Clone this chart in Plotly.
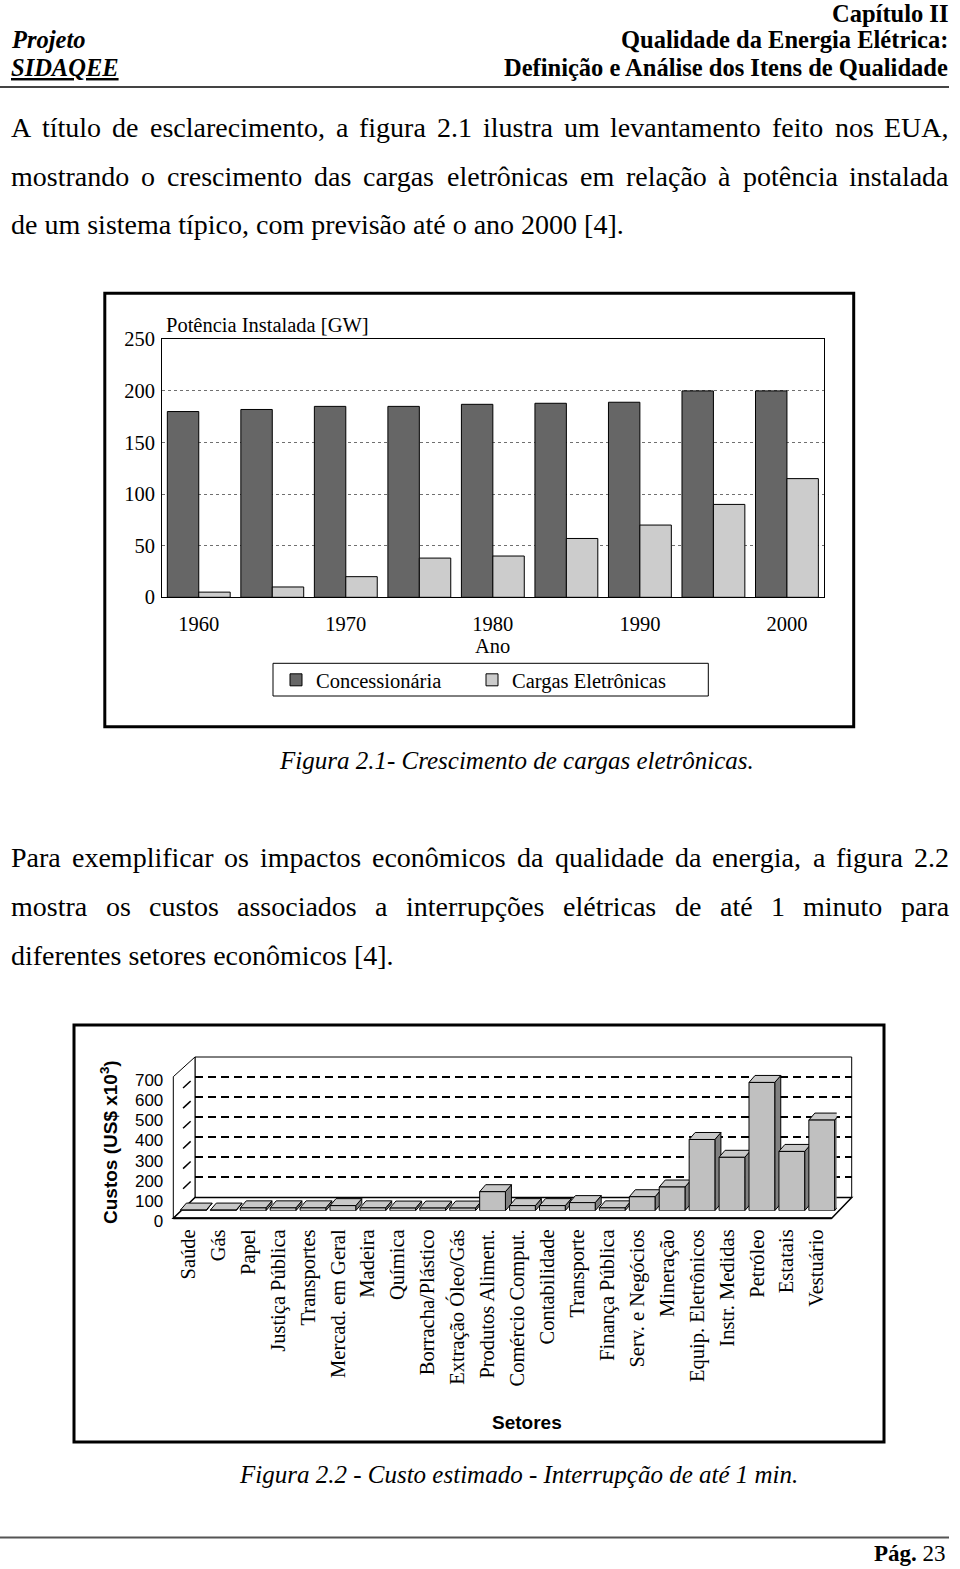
import plotly.graph_objects as go

# page is 960x1569; the page body margin is removed after plotting (post_script)
PAGE_W, PAGE_H = 960, 1569
OFF = 0
W, H = PAGE_W - 2 * OFF, PAGE_H - 2 * OFF


def px(x):
    return (x - OFF) / W


def py(y):
    return 1 - (y - OFF) / H


# ---------------- data : Figura 2.1 ----------------
anos = [1960, 1965, 1970, 1975, 1980, 1985, 1990, 1995, 2000]
concessionaria = [180, 182, 185, 185, 187, 188, 189, 200, 200]
cargas_eletronicas = [5, 10, 20, 38, 40, 57, 70, 90, 115]
anos_ticks = [1960, 1970, 1980, 1990, 2000]
gw_ticks = [0, 50, 100, 150, 200, 250]

# ---------------- data : Figura 2.2 ----------------
setores = ["Saúde", "Gás", "Papel", "Justiça Pública", "Transportes",
           "Mercad. em Geral", "Madeira", "Química", "Borracha/Plástico",
           "Extração Óleo/Gás", "Produtos Aliment.", "Comércio Comput.",
           "Contabilidade", "Transporte", "Finança Pública", "Serv. e Negócios",
           "Mineração", "Equip. Eletrônicos", "Instr. Medidas", "Petróleo",
           "Estatais", "Vestuário"]
custos = [3, 3, 14, 14, 14, 25, 14, 13, 13, 13, 94, 25, 25, 40, 14, 69,
          117, 352, 264, 634, 293, 448]
custo_ticks = [0, 100, 200, 300, 400, 500, 600, 700]

# ---------------- text ----------------
para1 = ["A título de esclarecimento, a figura 2.1 ilustra um levantamento feito nos EUA,",
         "mostrando o crescimento das cargas eletrônicas em relação à potência instalada",
         "de um sistema típico, com previsão até o ano 2000 [4]."]
para2 = ["Para exemplificar os impactos econômicos da qualidade da energia, a figura 2.2",
         "mostra os custos associados a interrupções elétricas de até 1 minuto para",
         "diferentes setores econômicos [4]."]

SERIF = "Liberation Serif, Times New Roman, serif"
SANS = "Liberation Sans, Arial, sans-serif"
BODY = dict(family=SERIF, size=28, color="black")

# Times / Liberation Serif advance widths (1/1000 em) for justification
TW = {' ': 250, 'a': 444, 'b': 500, 'c': 444, 'd': 500, 'e': 444, 'f': 333,
      'g': 500, 'h': 500, 'i': 278, 'j': 278, 'k': 500, 'l': 278, 'm': 778,
      'n': 500, 'o': 500, 'p': 500, 'q': 500, 'r': 333, 's': 389, 't': 278,
      'u': 500, 'v': 500, 'w': 722, 'x': 500, 'y': 500, 'z': 444,
      'í': 278, 'ç': 444, 'ã': 444, 'à': 444, 'ê': 444, 'ô': 500, 'õ': 500,
      'é': 444, 'A': 722, 'E': 611, 'U': 722, 'P': 556, ',': 250, '.': 250}


def text_w(s, size):
    return sum(TW.get(c, 500) for c in s) / 1000.0 * size


annotations = []


def ann(text, x, y, font, xanchor="left", yanchor="middle", **kw):
    d = dict(text=text, x=px(x), y=py(y), xref="paper", yref="paper",
             xanchor=xanchor, yanchor=yanchor, showarrow=False, font=font)
    d.update(kw)
    annotations.append(d)


def justified(line, y, x0=10, x1=948, size=28):
    words = line.split(" ")
    ws = [text_w(w, size) for w in words]
    gap = (x1 - x0 - sum(ws)) / (len(words) - 1)
    x = x0
    for w, wd in zip(words, ws):
        ann(w, x - 1, y, BODY)
        x += wd + gap


# header
HF = dict(family=SERIF, size=24.5, color="black")
ann("<b>Capítulo II</b>", 949, 13.5, HF, xanchor="right", borderpad=0)
ann("<b>Qualidade da Energia Elétrica:</b>", 949, 39, HF, xanchor="right", borderpad=0)
ann("<b>Definição e Análise dos Itens de Qualidade</b>", 949, 67.5, HF, xanchor="right", borderpad=0)
ann("<b><i>Projeto</i></b>", 10, 39, HF, borderpad=0)
ann("<b><i>SIDAQEE</i></b>", 10, 67.5, dict(HF, lineposition="under"), borderpad=0)

# body paragraphs
py1 = [128, 176, 224]
justified(para1[0], py1[0])
justified(para1[1], py1[1])
ann(para1[2], 9, py1[2], BODY)
py2 = [857, 906, 955]
justified(para2[0], py2[0])
justified(para2[1], py2[1])
ann(para2[2], 9, py2[2], BODY)

CAP = dict(family=SERIF, size=25, color="black")
ann("<i>Figura 2.1- Crescimento de cargas eletrônicas.</i>", 516, 760, CAP, xanchor="center")
ann("<i>Figura 2.2 - Custo estimado - Interrupção de até 1 min.</i>", 518.5, 1474, CAP, xanchor="center")

ann("<b>Pág.</b> 23", 948, 1553, dict(family=SERIF, size=23, color="black"), xanchor="right")

# chart 1 texts
C1F = dict(family=SERIF, size=20.5, color="black")
ann("Potência Instalada [GW]", 163.5, 325, C1F)
ann("Ano", 492.6, 646, C1F, xanchor="center")

# chart 2 texts
ann("<b>Custos (US$ x10<sup>3</sup>)</b>", 108.5, 1142.5,
    dict(family=SANS, size=19, color="black"), xanchor="center", textangle=-90)
ann("<b>Setores</b>", 527, 1422, dict(family=SANS, size=19, color="black"), xanchor="center")

# ---------------- geometry of 3-D chart ----------------
FX0, FX1, FY0, FYT = 173.3, 831.7, 1218.3, 1076.7   # front plane (0 .. 700)
BX0, BX1, BY0, BYT = 195.0, 851.7, 1197.5, 1057.0   # back wall
SHX, SHY = 5.0, -7.6                                # bar plane shift
n = len(setores)
cat_px = (FX1 - FX0) / n
val_px = (FY0 - FYT) / custo_ticks[-1]
dxu = 6.0 / cat_px        # bar depth, category units
dyu = 7.0 / val_px        # bar depth, value units
half = 0.43

fig = go.Figure()

# chart 1 bars
fig.add_trace(go.Bar(x=anos, y=concessionaria, name="Concessionária",
                     marker=dict(color="#666666", line=dict(color="black", width=1)),
                     xaxis="x", yaxis="y", legend="legend"))
fig.add_trace(go.Bar(x=anos, y=cargas_eletronicas, name="Cargas Eletrônicas",
                     marker=dict(color="#cccccc", line=dict(color="black", width=1)),
                     xaxis="x", yaxis="y", legend="legend2"))

# chart 2 : front axis (labels)
fig.add_trace(go.Scatter(x=list(range(n)), y=[0] * n, mode="markers",
                         marker=dict(opacity=0), xaxis="x2", yaxis="y2",
                         showlegend=False, hoverinfo="skip"))
# back wall (grid)
fig.add_trace(go.Scatter(x=[0], y=[0], mode="markers", marker=dict(opacity=0),
                         xaxis="x3", yaxis="y3", showlegend=False, hoverinfo="skip"))

# side and top faces
side_x, side_y, top_x, top_y = [], [], [], []
for i, v in enumerate(custos):
    r = i + half
    l = i - half
    side_x += [r, r + dxu, r + dxu, r, r, None]
    side_y += [0, dyu, v + dyu, v, 0, None]
    top_x += [l, r, r + dxu, l + dxu, l, None]
    top_y += [v, v, v + dyu, v + dyu, v, None]
fig.add_trace(go.Scatter(x=side_x, y=side_y, mode="lines", fill="toself",
                         fillcolor="#808080", line=dict(color="black", width=1),
                         xaxis="x4", yaxis="y4", showlegend=False, hoverinfo="skip"))
fig.add_trace(go.Scatter(x=top_x, y=top_y, mode="lines", fill="toself",
                         fillcolor="#c8c8c8", line=dict(color="black", width=1),
                         xaxis="x4", yaxis="y4", showlegend=False, hoverinfo="skip"))
# front faces
fig.add_trace(go.Bar(x=list(range(n)), y=custos, width=2 * half,
                     marker=dict(color="#c0c0c0", line=dict(color="black", width=1)),
                     xaxis="x5", yaxis="y5", showlegend=False))

noax = dict(showgrid=False, zeroline=False, showline=False, showticklabels=False,
            ticks="", automargin=False)

shapes = []


def rect(x0, y0, x1, y1, w=1, color="black", fill=None, layer="above"):
    shapes.append(dict(type="rect", xref="paper", yref="paper", x0=px(x0), x1=px(x1),
                       y0=py(y0), y1=py(y1), line=dict(color=color, width=w),
                       fillcolor=fill if fill else "rgba(0,0,0,0)", layer=layer))


def line(x0, y0, x1, y1, w=1, color="black", dash=None, layer="above"):
    d = dict(type="line", xref="paper", yref="paper", x0=px(x0), x1=px(x1),
             y0=py(y0), y1=py(y1), line=dict(color=color, width=w), layer=layer)
    if dash:
        d["line"]["dash"] = dash
    shapes.append(d)


def path(pts, w=1, fill="white", layer="below"):
    s = "M " + " L ".join(f"{px(a):.5f},{py(b):.5f}" for a, b in pts) + " Z"
    shapes.append(dict(type="path", xref="paper", yref="paper", path=s,
                       line=dict(color="black", width=w), fillcolor=fill, layer=layer))


# page rules
line(0, 87, 949, 87, w=2, color="#444444")
line(0, 1537.5, 949, 1537.5, w=2, color="#555555")
# chart frames
rect(104.8, 293.3, 853.7, 726.7, w=3)
rect(273, 663.3, 708.3, 696, w=1)
rect(74, 1025, 884, 1442, w=3)

# 3-D walls and floor
shapes.append(dict(type="rect", xref="x3 domain", yref="y3 domain", x0=0, x1=1, y0=0, y1=1,
                   line=dict(color="black", width=1), fillcolor="white", layer="below"))
path([(FX0, FY0), (FX0, FYT), (BX0, BYT), (BX0, BY0)], w=1)
path([(FX0, FY0), (FX1, FY0), (BX1, BY0), (BX0, BY0)], w=1.5)
line(FX0, FY0, FX1, FY0, w=2)
for v in custo_ticks[1:-1]:
    fy = FY0 - v * val_px
    by = BY0 - v * (BY0 - BYT) / custo_ticks[-1]
    t0, t1 = 0.45, 0.8
    line(FX0 + (BX0 - FX0) * t0, fy + (by - fy) * t0,
         FX0 + (BX0 - FX0) * t1, fy + (by - fy) * t1, w=1.5, layer="below")

fig.update_layout(
    width=W, height=H, autosize=False,
    margin=dict(l=0, r=0, t=0, b=0, pad=0, autoexpand=False),
    paper_bgcolor="white", plot_bgcolor="rgba(0,0,0,0)",
    barmode="group", bargap=0.145, bargroupgap=0,
    showlegend=True,
    legend=dict(x=px(276), y=py(680), xanchor="left", yanchor="middle",
                orientation="h", font=C1F, bgcolor="rgba(0,0,0,0)", borderwidth=0),
    legend2=dict(x=px(472), y=py(680), xanchor="left", yanchor="middle",
                 orientation="h", font=C1F, bgcolor="rgba(0,0,0,0)", borderwidth=0),
    xaxis=dict(domain=[px(162), px(823.7)], range=[1957.5, 2002.5],
               tickvals=anos_ticks, ticktext=[str(a) for a in anos_ticks],
               showgrid=False, zeroline=False, showline=True, mirror=True,
               linecolor="black", linewidth=1, ticks="", tickfont=C1F,
               ticklabelstandoff=8, anchor="y", automargin=False),
    yaxis=dict(domain=[py(597.3), py(339.3)], range=[0, 250], tickvals=gw_ticks,
               showgrid=True, gridcolor="#707070", griddash="dot", gridwidth=1,
               zeroline=False, showline=True, mirror=True, linecolor="black",
               linewidth=1, ticks="", tickfont=C1F, ticklabelstandoff=2, anchor="x",
               automargin=False),
    xaxis2=dict(domain=[px(FX0), px(FX1)], range=[-0.5, n - 0.5],
                tickvals=list(range(n)), ticktext=setores, tickangle=-90,
                tickfont=dict(family=SERIF, size=20.5, color="black"),
                showgrid=False, zeroline=False, showline=False, ticks="",
                ticklabelstandoff=3, anchor="y2", automargin=False),
    yaxis2=dict(domain=[py(FY0 + 3), py(FYT + 3)], range=[0, custo_ticks[-1]],
                tickvals=custo_ticks, tickfont=dict(family=SANS, size=17, color="black"),
                showgrid=False, zeroline=False, showline=False, ticks="",
                ticklabelstandoff=9, anchor="x2", automargin=False),
    xaxis3=dict(domain=[px(BX0), px(BX1)], range=[0, 1], anchor="y3", **noax),
    yaxis3=dict(domain=[py(BY0), py(BYT)], range=[0, custo_ticks[-1]],
                tickvals=custo_ticks[1:-1], showgrid=True, gridcolor="black",
                gridwidth=2, griddash="8px,5px", zeroline=False, showline=False,
                showticklabels=False, ticks="", anchor="x3", automargin=False),
    xaxis4=dict(domain=[px(FX0 + SHX), px(FX1 + SHX)], range=[-0.5, n - 0.5], anchor="y4", **noax),
    yaxis4=dict(domain=[py(FY0 + SHY), py(FYT + SHY)], range=[0, custo_ticks[-1]], anchor="x4", **noax),
    xaxis5=dict(domain=[px(FX0 + SHX), px(FX1 + SHX)], range=[-0.5, n - 0.5], anchor="y5", **noax),
    yaxis5=dict(domain=[py(FY0 + SHY), py(FYT + SHY)], range=[0, custo_ticks[-1]], anchor="x5", **noax),
    annotations=annotations,
    shapes=shapes,
)

fig.write_html(
    "out.html",
    config={"displayModeBar": False},
    post_script=("document.body.style.margin='0';"
                 "document.body.style.overflow='hidden';"
                 "document.documentElement.style.overflow='hidden';"),
)
